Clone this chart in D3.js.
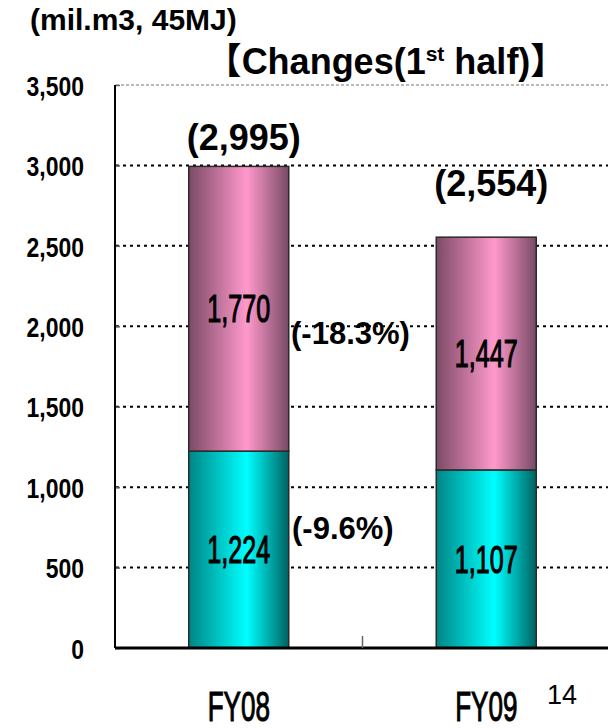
<!DOCTYPE html>
<html><head><meta charset="utf-8">
<script src="https://cdn.jsdelivr.net/npm/d3@7"></script>
<style>body{margin:0;background:#fff;overflow:hidden}</style></head>
<body>
<script>
const categories = ["FY08", "FY09"];
const lowerValues = [1224, 1107];
const upperValues = [1770, 1447];
const totalLabels = ["(2,995)", "(2,554)"];
const upperChange = "(-18.3%)";
const lowerChange = "(-9.6%)";
const yTicks = [0, 500, 1000, 1500, 2000, 2500, 3000, 3500];
const unitLabel = "(mil.m3, 45MJ)";
const pageNumber = "14";

const W = 608, H = 728;
const svg = d3.select("body").append("svg").attr("width", W).attr("height", H);
const defs = svg.append("defs");

function grad(id, dark1, light, dark2) {
  const g = defs.append("linearGradient").attr("id", id).attr("x1", "0").attr("x2", "1").attr("y1", "0").attr("y2", "0");
  g.append("stop").attr("offset", "0%").attr("stop-color", dark1);
  g.append("stop").attr("offset", "58%").attr("stop-color", light);
  g.append("stop").attr("offset", "100%").attr("stop-color", dark2);
}
grad("gPink", "#7c4a66", "#ff99cc", "#784a64");
grad("gTeal", "#008585", "#00ffff", "#006262");

const y = d3.scaleLinear().domain([0, 3500]).range([648, 85]);
const x = d3.scalePoint().domain(categories).range([115, 610]).padding(0.5);
const barW = x.step() * 0.404;
const FONT = "Liberation Sans, Arial, sans-serif";

// gridlines
svg.append("g").selectAll("line").data(yTicks.filter(d => d > 0)).join("line")
  .attr("x1", 116).attr("x2", W).attr("y1", d => y(d)).attr("y2", d => y(d))
  .attr("stroke", d => d === 3500 ? "#777" : "#000")
  .attr("stroke-width", d => d === 3500 ? 1 : 2)
  .attr("stroke-dasharray", d => d === 3500 ? "3,2" : "3,4");

// y axis
const yAxis = d3.axisRight(y).tickValues(yTicks).tickSize(5).tickFormat("");
const ga = svg.append("g").attr("transform", "translate(115,0)").call(yAxis);
ga.select(".domain").remove();
ga.selectAll(".tick line").attr("stroke", "#666").attr("stroke-width", 1.5);
svg.append("line").attr("x1", 115).attr("x2", 115).attr("y1", y(3500)).attr("y2", y(0))
  .attr("stroke", "#000").attr("stroke-width", 2);

// y tick labels (condensed)
svg.append("g").selectAll("text").data(yTicks).join("text")
  .attr("transform", d => `translate(84,${y(d)}) scale(0.82,1)`)
  .attr("text-anchor", "end").attr("dy", "0.38em")
  .attr("font-family", FONT).attr("font-weight", "bold")
  .attr("font-size", 28).text(d => d3.format(",")(d));

// bars
const g = svg.append("g");
categories.forEach((c, i) => {
  const x0 = x(c) - barW / 2;
  g.append("rect").attr("x", x0).attr("width", barW)
    .attr("y", y(lowerValues[i])).attr("height", y(0) - y(lowerValues[i]))
    .attr("fill", "url(#gTeal)").attr("stroke", "#2a2a2a").attr("stroke-width", 1.5);
  g.append("rect").attr("x", x0).attr("width", barW)
    .attr("y", y(lowerValues[i] + upperValues[i])).attr("height", y(lowerValues[i]) - y(lowerValues[i] + upperValues[i]))
    .attr("fill", "url(#gPink)").attr("stroke", "#2a2a2a").attr("stroke-width", 1.5);
  [[lowerValues[i], lowerValues[i] / 2], [upperValues[i], lowerValues[i] + upperValues[i] / 2]].forEach(([v, m]) => {
    g.append("text").attr("transform", `translate(${x(c)},${y(m)}) scale(0.66,1)`)
      .attr("text-anchor", "middle").attr("dy", "0.36em")
      .attr("font-family", FONT).attr("font-size", 38)
      .attr("stroke", "#000").attr("stroke-width", 1.2)
      .text(d3.format(",")(v));
  });
});

// bottom axis
svg.append("line").attr("x1", 115).attr("x2", W).attr("y1", y(0)).attr("y2", y(0))
  .attr("stroke", "#000").attr("stroke-width", 3);
const mid = (x(categories[0]) + x(categories[1])) / 2;
svg.append("line").attr("x1", mid).attr("x2", mid)
  .attr("y1", y(0)).attr("y2", y(0) - 12).attr("stroke", "#666").attr("stroke-width", 1.5);

// category labels
svg.append("g").selectAll("text").data(categories).join("text")
  .attr("transform", d => `translate(${x(d)},721) scale(0.62,1)`)
  .attr("text-anchor", "middle")
  .attr("font-family", FONT).attr("font-size", 42)
  .attr("stroke", "#000").attr("stroke-width", 1.1)
  .text(d => d);

// total labels
const totalOffsets = [29, 54];
categories.forEach((c, i) => {
  svg.append("text").attr("x", x(c) + 5).attr("y", y(lowerValues[i] + upperValues[i]) - totalOffsets[i])
    .attr("text-anchor", "middle").attr("dy", "0.36em")
    .attr("font-family", FONT).attr("font-weight", "bold").attr("font-size", 36)
    .text(totalLabels[i]);
});

// change labels
svg.append("text").attr("x", 291).attr("y", y(1960)).attr("dy", "0.36em")
  .attr("font-family", FONT).attr("font-weight", "bold").attr("font-size", 31)
  .text(upperChange);
svg.append("text").attr("x", 292).attr("y", y(750)).attr("dy", "0.36em")
  .attr("font-family", FONT).attr("font-weight", "bold").attr("font-size", 31)
  .text(lowerChange);

// titles
svg.append("text").attr("x", 30).attr("y", 30)
  .attr("font-family", FONT).attr("font-weight", "bold").attr("font-size", 30)
  .text(unitLabel);
const t = svg.append("text").attr("x", 386).attr("y", 74).attr("text-anchor", "middle")
  .attr("font-family", FONT).attr("font-weight", "bold").attr("font-size", 36);
t.append("tspan").attr("font-family", "Noto Sans CJK JP").text("【");
t.append("tspan").text("Changes(1");
t.append("tspan").attr("font-size", 21).attr("dy", -13).text("st");
t.append("tspan").attr("dy", 13).text(" half)");
t.append("tspan").attr("font-family", "Noto Sans CJK JP").text("】");

// page number
svg.append("text").attr("x", 547).attr("y", 704)
  .attr("font-family", FONT).attr("font-size", 27)
  .text(pageNumber);
</script>
</body></html>
